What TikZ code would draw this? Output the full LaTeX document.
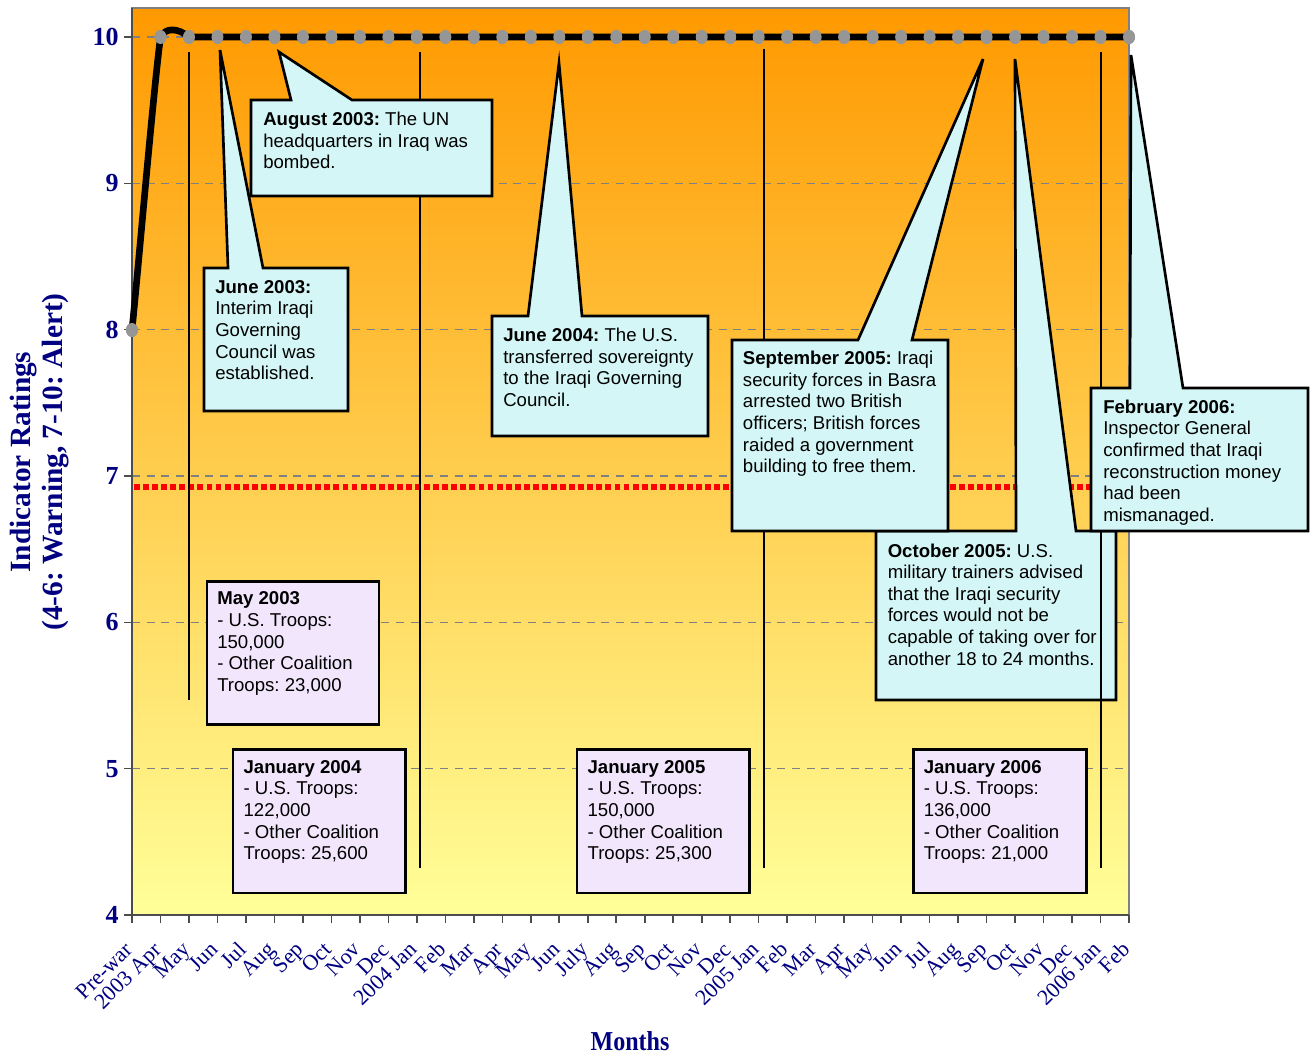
\documentclass[tikz,border=0pt]{standalone}
\usepackage{fontspec}
\setmainfont{Liberation Serif}
\newfontfamily\calloutfont{Liberation Sans}
\usetikzlibrary{calc,shapes.geometric}
\frenchspacing

\definecolor{axisnavy}{RGB}{0,0,128}
\definecolor{calloutcyan}{RGB}{212,246,246}
\definecolor{troopviolet}{RGB}{242,230,252}
\definecolor{markergray}{RGB}{150,150,150}
\definecolor{plottop}{RGB}{255,153,0}
\definecolor{plotbottom}{RGB}{255,255,153}
\definecolor{gridgray}{RGB}{128,128,128}
\definecolor{framegray}{RGB}{128,128,128}
\definecolor{alertred}{RGB}{255,0,0}

% speech-bubble outline: left, top, right, bottom, pointer base left/right, tip x, tip y
\newcommand{\speechbox}[8]{%
  \draw[callout] (#1,#2) -- (#5,#2) -- (#7,#8) -- (#6,#2) -- (#3,#2)
    -- (#3,#4) -- (#1,#4) -- cycle;}

\begin{document}
\begin{tikzpicture}[x=0.75pt, y=-0.75pt,
  callout/.style={draw=black, line width=2pt, fill=calloutcyan, line join=miter},
  callouttext/.style={anchor=north west, inner sep=0pt, align=left,
    font=\calloutfont\fontsize{13.95}{16.2}\selectfont, text=black},
  troopbox/.style={draw=black, line width=2pt, fill=troopviolet, inner sep=0pt,
    anchor=north west},
  leader/.style={draw=black, line width=1.5pt},
  gridline/.style={draw=gridgray, line width=0.9pt, dash pattern=on 6pt off 5pt},
  alertline/.style={draw=alertred, line width=4pt, dash pattern=on 4.4pt off 2.4pt},
  dataline/.style={draw=black, line width=5pt, line join=round, line cap=round},
  datamark/.style={ellipse, fill=markergray, draw=none, inner sep=0pt,
    minimum width=9pt, minimum height=10.5pt},
  axistick/.style={draw=gray!60!black, line width=1.2pt},
  ylab/.style={anchor=east, inner sep=0pt, text=axisnavy,
    font=\bfseries\fontsize{19.5}{22}\selectfont},
  xlab/.style={anchor=base east, rotate=45, inner sep=0pt, text=axisnavy,
    font=\fontsize{16.5}{19}\selectfont},
  axistitle/.style={text=axisnavy, inner sep=0pt}
]
\useasboundingbox (0,0) rectangle (1313,1055);
\fill[white] (0,0) rectangle (1313,1055);

% plot area with its orange-to-yellow fill
\shade[top color=plottop, bottom color=plotbottom] (132,8) rectangle (1129,915);

% horizontal grid lines at 5 ... 10
\foreach \v in {5,...,10}
  \draw[gridline] (132,{915-(\v-4)*146.333}) -- (1129,{915-(\v-4)*146.333});

% alert threshold
\draw[alertline] (134,487) -- (1129,487);

% frame and axes
\draw[framegray, line width=2pt] (132,8) rectangle (1129,915);
\draw[gray!60!black, line width=1.8pt] (132,915) -- (1129,915);
\draw[gray!60!black, line width=1.5pt] (132,8) -- (132,915);
\foreach \v in {4,...,10} {
  \draw[axistick] (124,{915-(\v-4)*146.333}) -- (132,{915-(\v-4)*146.333});
  \node[ylab] (ylab-\v) at (119,{915-(\v-4)*146.333}) {\v};
}
\foreach \i in {0,...,35}
  \draw[axistick] ({132+\i*28.4857},915) -- ({132+\i*28.4857},923);

% rating series
\node[datamark] (m0) at (132,330) {};
\foreach \i in {1,...,35}
  \node[datamark] (m\i) at ({132+\i*28.4857},37) {};
\draw[dataline] (m0.center) .. controls (140,250) and (153,95) .. (m1.center)
  .. controls (166,27) and (178,28) .. (m2.center) -- (m35.center);
\node[datamark] at (m0) {};
\foreach \i in {1,...,35}
  \node[datamark] at (m\i) {};

% October 2005 bubble sits beneath the January 2006 leader
\speechbox{876}{531}{1116}{700}{1016}{1076}{1015}{59}
\node[callouttext] (oct05) at (887.5,543.3)
  {\textbf{October 2005:} U.S.\\military trainers advised\\that the Iraqi security\\forces would not be\\capable of taking over for\\another 18 to 24 months.};

% leader lines for the troop boxes
\coordinate (lead-may03-top) at (189,52);
\coordinate (lead-may03-end) at (189,700);
\coordinate (lead-jan04-top) at (420,52);
\coordinate (lead-jan04-end) at (420,868);
\coordinate (lead-jan05-top) at (764,49);
\coordinate (lead-jan05-end) at (764,868);
\coordinate (lead-jan06-top) at (1101,52);
\coordinate (lead-jan06-end) at (1101,868);
\draw[leader] (lead-may03-top) -- (lead-may03-end);
\draw[leader] (lead-jan04-top) -- (lead-jan04-end);
\draw[leader] (lead-jan05-top) -- (lead-jan05-end);
\draw[leader] (lead-jan06-top) -- (lead-jan06-end);

% event bubbles
\speechbox{251}{100}{492}{196}{291}{352}{279}{52}
\node[callouttext] (aug03) at (263,111.7)
  {\textbf{August 2003:} The UN\\headquarters in Iraq was\\bombed.};

\speechbox{204}{268}{348}{411}{228}{263}{220}{50}
\node[callouttext] (jun03) at (215,280)
  {\textbf{June 2003:}\\Interim Iraqi\\Governing\\Council was\\established.};

\speechbox{492}{316}{708}{436}{528}{582}{559}{63}
\node[callouttext] (jun04) at (503,327.7)
  {\textbf{June 2004:} The U.S.\\transferred sovereignty\\to the Iraqi Governing\\Council.};

\speechbox{732}{340}{948}{531}{858}{912}{983}{59}
\node[callouttext] (sep05) at (742.7,351)
  {\textbf{September 2005:} Iraqi\\security forces in Basra\\arrested two British\\officers; British forces\\raided a government\\building to free them.};

\speechbox{1091}{388}{1308}{531}{1130}{1183}{1131}{55}
\node[callouttext] (feb06) at (1103,399.5)
  {\textbf{February 2006:}\\Inspector General\\confirmed that Iraqi\\reconstruction money\\had been\\mismanaged.};

% troop-level boxes
\node[troopbox, minimum width=129pt, minimum height=107.5pt] (may03-box) at (205.5,580) {};
\node[callouttext] (may03) at (217,591.7)
  {\textbf{May 2003}\\- U.S. Troops:\\150,000\\- Other Coalition\\Troops: 23,000};

\node[troopbox, minimum width=129.5pt, minimum height=107.5pt] (jan04-box) at (231.7,748.3) {};
\node[callouttext] (jan04) at (243.3,760)
  {\textbf{January 2004}\\- U.S. Troops:\\122,000\\- Other Coalition\\Troops: 25,600};

\node[troopbox, minimum width=129.5pt, minimum height=107.5pt] (jan05-box) at (575.7,748.3) {};
\node[callouttext] (jan05) at (587.3,760)
  {\textbf{January 2005}\\- U.S. Troops:\\150,000\\- Other Coalition\\Troops: 25,300};

\node[troopbox, minimum width=129.5pt, minimum height=107.5pt] (jan06-box) at (912.3,748.3) {};
\node[callouttext] (jan06) at (923.5,760)
  {\textbf{January 2006}\\- U.S. Troops:\\136,000\\- Other Coalition\\Troops: 21,000};

% month labels
\foreach \lab [count=\i from 0] in {Pre-war,2003 Apr,May,Jun,Jul,Aug,Sep,Oct,Nov,Dec,
    2004 Jan,Feb,Mar,Apr,May,Jun,July,Aug,Sep,Oct,Nov,Dec,
    2005 Jan,Feb,Mar,Apr,May,Jun,Jul,Aug,Sep,Oct,Nov,Dec,2006 Jan,Feb}
  \node[xlab] (xlab-\i) at ({134+\i*28.4857},951) {\lab};

% axis titles
\node[axistitle, rotate=90, align=center,
  font=\bfseries\fontsize{22}{23.7}\selectfont] (ytitle) at (39.5,462)
  {Indicator Ratings\\(4-6: Warning, 7-10: Alert)};
\node[axistitle, font=\bfseries\fontsize{20.5}{24}\selectfont] (xtitle) at (630,1041)
  {\scalebox{0.88}[1]{Months}};
\end{tikzpicture}
\end{document}
